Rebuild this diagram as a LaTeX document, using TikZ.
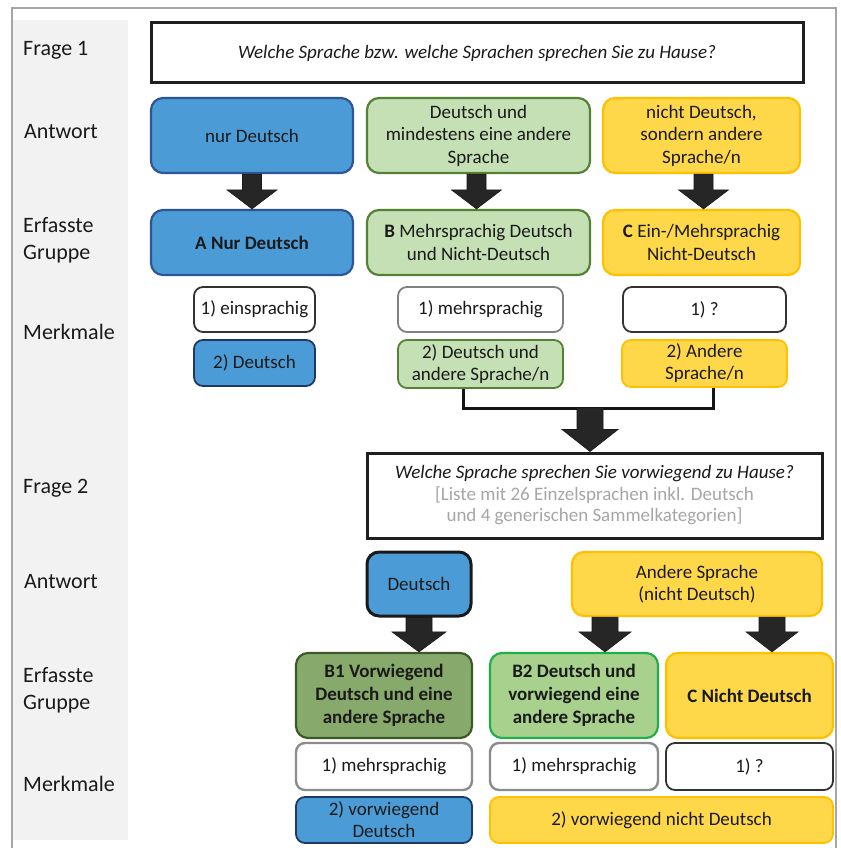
\documentclass[tikz,border=0pt]{standalone}
\usepackage{fontspec}
\setmainfont{Carlito}
\usetikzlibrary{calc}
\definecolor{cblue}{HTML}{4B9CD6}
\definecolor{cblueD}{HTML}{2F5597}
\definecolor{cnavy}{HTML}{1F3864}
\definecolor{cgreenL}{HTML}{C5E0B4}
\definecolor{cgreenD}{HTML}{548235}
\definecolor{cyel}{HTML}{FFD84A}
\definecolor{cyelD}{HTML}{FFC000}
\definecolor{cBone}{HTML}{87A96B}
\definecolor{cBoneD}{HTML}{3B5A27}
\definecolor{cBtwo}{HTML}{A9D18E}
\definecolor{cBtwoD}{HTML}{1FB04A}
\definecolor{cband}{HTML}{F2F2F2}
\definecolor{cframe}{HTML}{A6A6A6}
\definecolor{ctext}{HTML}{1A1A1A}
\definecolor{cgrayt}{HTML}{A6A6A6}
\newcommand{\bx}[7]{\node[#2, minimum width={(#5-#3)*1pt}, minimum height={(#6-#4)*1pt}] (#1) at ({(#3+#5)/2},{(#4+#6)/2}) {#7};}
\newcommand{\barr}[5]{\filldraw[arrowfill] let \p1=#1, \p2=#2 in (\x1-#3,\y1) -- (\x1+#3,\y1) -- (\x1+#3,\y2+#5) -- (\x1+#4,\y2+#5) -- (\x1,\y2) -- (\x1-#4,\y2+#5) -- (\x1-#3,\y2+#5) -- cycle;}
\tikzset{
  lbl/.style={anchor=west, inner sep=0pt, align=left, text=ctext, font=\fontsize{22}{26.5}\selectfont},
  qbox/.style={draw=black!88, line width=3pt, fill=white, inner sep=0pt, align=center, text=ctext, font=\fontsize{19}{21.5}\selectfont},
  rbox/.style={rounded corners=12pt, line width=2.2pt, inner sep=0pt, align=center, text=ctext, font=\fontsize{19}{22.5}\selectfont},
  bbold/.style={font=\fontsize{19}{23}\selectfont\bfseries},
  bluebox/.style={rbox, fill=cblue, draw=cblueD},
  greenbox/.style={rbox, fill=cgreenL, draw=cgreenD},
  yelbox/.style={rbox, fill=cyel, draw=cyelD},
  mbox/.style={rbox, rounded corners=9pt, line width=1.8pt, font=\fontsize{19}{22}\selectfont},
  mwhite/.style={mbox, fill=white, draw=black!80},
  mblue/.style={mbox, fill=cblue, draw=cnavy},
  mgreen/.style={mbox, fill=cgreenL, draw=cgreenD},
  myel/.style={mbox, fill=cyel, draw=cyelD},
  arrowfill/.style={fill=black!85, draw=black!90, line width=0.6pt, line join=miter},
  conn/.style={draw=black!92, line width=3pt, line join=miter},
}
\begin{document}
\begin{tikzpicture}[x=1pt,y=-1pt]
\useasboundingbox (0,0) rectangle (840,848);
\fill[white] (0,0) rectangle (840,848);
\fill[cband] (13,20) rectangle (128,840);
\draw[cframe, line width=1.5pt] (12,850) -- (12,8) -- (836,8) -- (836,850);
% labels
\node[lbl] (lf1) at (23,50) {Frage 1};
\node[lbl] (la1) at (24,132) {Antwort};
\node[lbl] (le1) at (23,240) {Erfasste\\Gruppe};
\node[lbl] (lm1) at (23,332) {Merkmale};
\node[lbl] (lf2) at (23,488) {Frage 2};
\node[lbl] (la2) at (24,582) {Antwort};
\node[lbl] (le2) at (23,690) {Erfasste\\Gruppe};
\node[lbl] (lm2) at (23,784) {Merkmale};
% question 1
\bx{f1}{qbox}{151}{23}{803}{83}{\textit{Welche Sprache bzw. welche Sprachen sprechen Sie zu Hause?}}
% answers 1
\bx{a1a}{bluebox}{151}{98}{353}{173}{nur Deutsch}
\bx{a1b}{greenbox}{367}{98}{590}{173}{Deutsch und\\mindestens eine andere\\Sprache}
\bx{a1c}{yelbox}{603}{98}{800}{173}{nicht Deutsch,\\sondern andere\\Sprache/n}
% groups 1
\bx{e1a}{bluebox}{151}{210}{353}{275}{\textbf{A Nur Deutsch}}
\bx{e1b}{greenbox}{367}{210}{590}{275}{\textbf{B} Mehrsprachig Deutsch\\und Nicht-Deutsch}
\bx{e1c}{yelbox}{603}{210}{800}{275}{\textbf{C} Ein-/Mehrsprachig\\Nicht-Deutsch}
% features 1
\bx{m1a}{mwhite}{194}{287}{315}{332}{1) einsprachig}
\bx{m1a2}{mblue}{194}{340}{315}{386}{2) Deutsch}
\bx{m1b}{mwhite, draw=black!50}{398}{287}{563}{332}{1) mehrsprachig}
\bx{m1b2}{mgreen}{398}{340}{563}{388}{2) Deutsch und\\andere Sprache/n}
\bx{m1c}{mwhite}{623}{287}{786}{332}{1) ?}
\bx{m1c2}{myel}{622}{340}{787}{387}{2) Andere\\Sprache/n}
% question 2
\bx{f2}{qbox}{367}{453}{822}{538}{\textit{Welche Sprache sprechen Sie vorwiegend zu Hause?}\\\textcolor{cgrayt}{[Liste mit 26 Einzelsprachen inkl. Deutsch}\\\textcolor{cgrayt}{und 4 generischen Sammelkategorien]}}
% answers 2
\bx{a2a}{bluebox, draw=black!90, line width=3pt}{367}{552}{471}{616}{Deutsch}
\bx{a2b}{yelbox}{572}{552}{822}{616}{Andere Sprache\\(nicht Deutsch)}
% groups 2
\bx{e2a}{rbox, fill=cBone, draw=cBoneD, bbold}{296}{653}{472}{738}{B1 Vorwiegend\\Deutsch und eine\\andere Sprache}
\bx{e2b}{rbox, fill=cBtwo, draw=cBtwoD, bbold}{490}{653}{658}{738}{B2 Deutsch und\\vorwiegend eine\\andere Sprache}
\bx{e2c}{yelbox, bbold}{666}{653}{833}{738}{C Nicht Deutsch}
% features 2
\bx{m2a}{mwhite, draw=black!45, line width=2.4pt}{296}{743}{472}{790}{1) mehrsprachig}
\bx{m2b}{mwhite, draw=black!45, line width=2.4pt}{490}{743}{658}{790}{1) mehrsprachig}
\bx{m2c}{mwhite}{666}{743}{833}{790}{1) ?}
\bx{m2a2}{mblue}{296}{797}{472}{843}{2) vorwiegend\\Deutsch}
\bx{m2b2}{myel}{490}{797}{833}{843}{2) vorwiegend nicht Deutsch}
% connector
\coordinate (jl) at (463,408);
\coordinate (jr) at (713,408);
\coordinate (join) at (590,408);
\draw[conn] (m1b2.south -| jl) -- (jl) -- (jr) -- (m1c2.south -| jr);
% block arrows
\barr{(a1a.south)}{(e1a.north)}{9.5pt}{25pt}{19pt}
\barr{($(a1b.south)+(-2,0)$)}{(e1b.north)}{9.5pt}{25pt}{19pt}
\barr{($(a1c.south)+(2,0)$)}{(e1c.north)}{9.5pt}{25pt}{19pt}
\barr{(join)}{(f2.north)}{13pt}{28pt}{22pt}
\barr{(a2a.south)}{(e2a.north)}{13pt}{27pt}{20pt}
\barr{($(a2b.south)+(-92,0)$)}{(e2b.north)}{13pt}{26pt}{20pt}
\barr{($(a2b.south)+(75,0)$)}{(e2c.north)}{13pt}{26pt}{20pt}
\end{tikzpicture}
\end{document}
